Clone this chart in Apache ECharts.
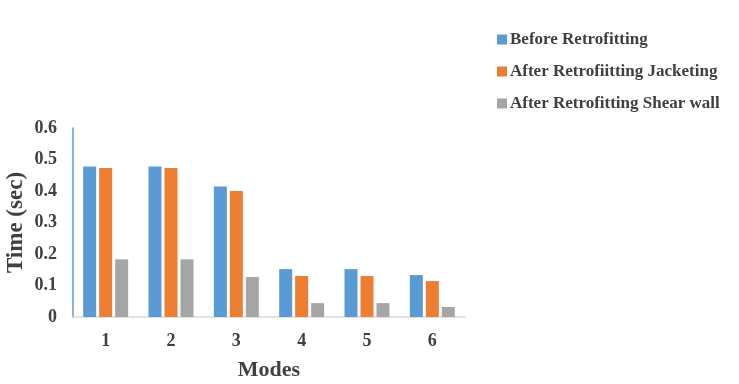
<!DOCTYPE html>
<html>
<head>
<meta charset="utf-8">
<script src="https://cdn.jsdelivr.net/npm/echarts@6/dist/echarts.min.js"></script>
<style>html,body{margin:0;padding:0;background:#fff;}#c{width:739px;height:384px;}</style>
</head>
<body>
<div id="c"></div>
<script>
var categories = ['1', '2', '3', '4', '5', '6'];
var seriesNames = ['Before Retrofitting', 'After Retrofiitting Jacketing', 'After Retrofitting Shear wall'];
var before = [0.478, 0.478, 0.414, 0.152, 0.152, 0.133];
var jacketing = [0.473, 0.473, 0.400, 0.130, 0.130, 0.114];
var shearWall = [0.183, 0.183, 0.127, 0.044, 0.044, 0.032];
var yTicks = [0, 0.1, 0.2, 0.3, 0.4, 0.5, 0.6];

var font = '"Liberation Serif", "Times New Roman", serif';
var chart = echarts.init(document.getElementById('c'));
chart.setOption({
  animation: false,
  color: ['#5b9bd5', '#ed7d31', '#a5a5a5'],
  grid: {left: 73, top: 128, right: 274, bottom: 67, outerBoundsMode: 'none', containLabel: false},
  legend: {
    orient: 'vertical', left: 492, top: 26, itemWidth: 10, itemHeight: 10, itemGap: 15,
    icon: 'rect',
    textStyle: {fontFamily: font, fontWeight: 'bold', fontSize: 17, color: '#404040', padding: [0,0,0,-2]},
    data: seriesNames
  },
  xAxis: {
    type: 'category', data: categories,
    name: 'Modes', nameLocation: 'middle', nameGap: 42, nameMoveOverlap: false,
    nameTextStyle: {fontFamily: font, fontWeight: 'bold', fontSize: 22, color: '#404040'},
    axisLine: {lineStyle: {color: '#d9d9d9', width: 1.5}},
    axisTick: {show: false},
    axisLabel: {fontFamily: font, fontWeight: 'bold', fontSize: 18, color: '#404040', margin: 15}
  },
  yAxis: {
    type: 'value', min: yTicks[0], max: yTicks[yTicks.length-1], interval: 0.1,
    name: 'Time (sec)', nameLocation: 'middle', nameGap: 45, nameMoveOverlap: false,
    nameTextStyle: {fontFamily: font, fontWeight: 'bold', fontSize: 23, color: '#404040'},
    axisLine: {show: true, lineStyle: {color: '#5b9bd5', width: 1.5}},
    axisTick: {show: false},
    splitLine: {show: false},
    axisLabel: {fontFamily: font, fontWeight: 'bold', fontSize: 18, color: '#404040', margin: 16,
      formatter: function(v){ return +v.toFixed(1) + ''; }}
  },
  series: [
    {name: seriesNames[0], type: 'bar', data: before, barWidth: 13, barGap: '23%'},
    {name: seriesNames[1], type: 'bar', data: jacketing, barWidth: 13, barGap: '23%'},
    {name: seriesNames[2], type: 'bar', data: shearWall, barWidth: 13, barGap: '23%'}
  ]
});
</script>
</body>
</html>
